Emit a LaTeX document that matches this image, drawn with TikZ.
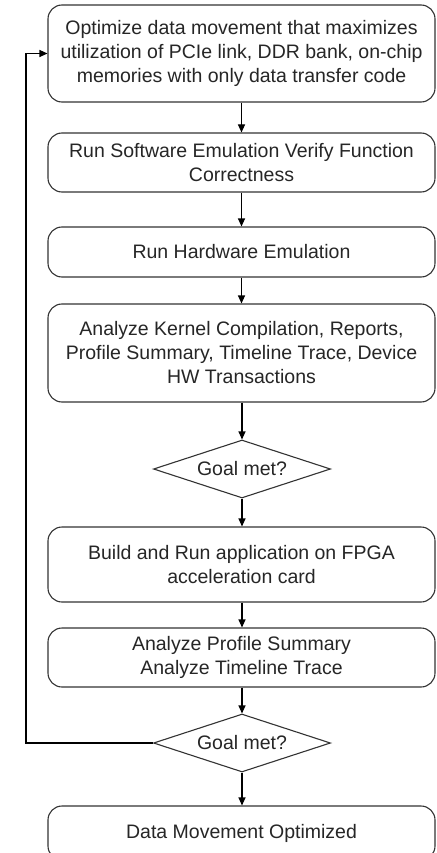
\documentclass[tikz,border=0pt]{standalone}
\usepackage{fontspec}
\setmainfont{Liberation Sans}
\usetikzlibrary{shapes.geometric,arrows.meta}
\begin{document}
\begin{tikzpicture}[x=1pt,y=-1pt,
  box/.style={draw=black!80,line width=1.1pt,rounded corners=14pt,minimum width=387pt,inner sep=0pt,align=center,font=\fontsize{19.5}{24}\selectfont,text=black!85},
  dec/.style={draw=black!80,line width=1.1pt,diamond,aspect=3,inner sep=0pt,minimum width=177pt,minimum height=58pt,font=\fontsize{19.5}{24}\selectfont,text=black!85},
  arr/.style={line width=1.1pt,-{Triangle[length=8pt,width=7pt]}}]
\clip (0,0) rectangle (436,853);
\fill[white] (0,0) rectangle (436,853);
\node[box,minimum height=97pt] (b1) at (241.5,53.5) {Optimize data movement that maximizes\\utilization of PCIe link, DDR bank, on-chip\\memories with only data transfer code};
\node[box,minimum height=59pt] (b2) at (241.5,162.5) {Run Software Emulation Verify Function\\Correctness};
\node[box,minimum height=50pt] (b3) at (241.5,252) {Run Hardware Emulation};
\node[box,minimum height=98pt] (b4) at (241.5,353) {Analyze Kernel Compilation, Reports,\\Profile Summary, Timeline Trace, Device\\HW Transactions};
\node[dec] (d1) at (242,469) {Goal met?};
\node[box,minimum height=75pt] (b5) at (241.5,564.5) {Build and Run application on FPGA\\acceleration card};
\node[box,minimum height=59pt] (b6) at (241.5,657.5) {Analyze Profile Summary\\Analyze Timeline Trace};
\node[dec] (d2) at (242,743) {Goal met?};
\node[box,minimum height=54pt] (b7) at (241.5,833) {Data Movement Optimized};
\coordinate (lp) at (26,743);
\draw[arr] (b1) -- (b2);
\draw[arr] (b2) -- (b3);
\draw[arr] (b3) -- (b4);
\draw[arr] (b4.south -| d1.north) -- (d1.north);
\draw[arr] (d1.south) -- (b5.north -| d1.south);
\draw[arr] (b5.south -| d1.south) -- (b6.north -| d1.south);
\draw[arr] (b6.south -| d2.north) -- (d2.north);
\draw[arr] (d2.south) -- (b7.north -| d2.south);
\draw[arr] (d2.west) -- (lp) |- (b1.west);
\end{tikzpicture}
\end{document}
